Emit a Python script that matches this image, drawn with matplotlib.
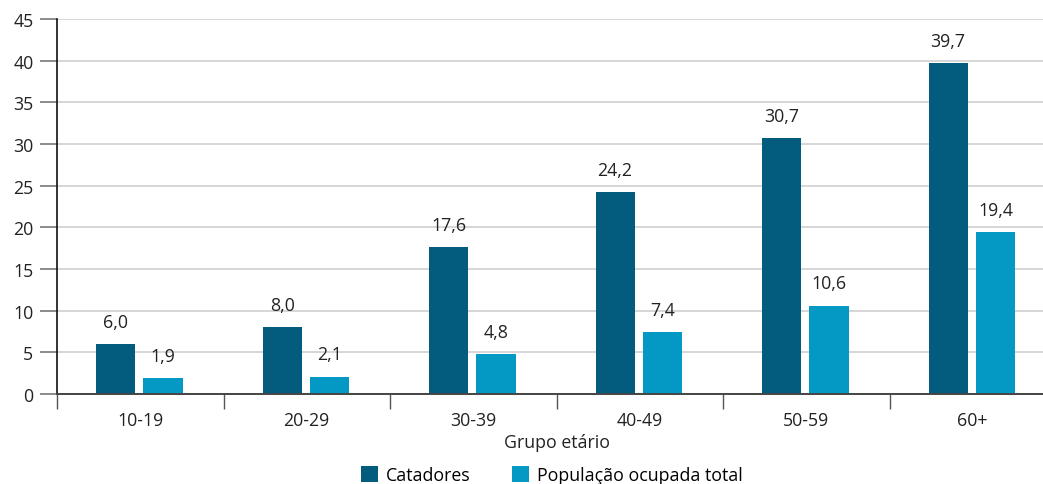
import numpy as np
import matplotlib.pyplot as plt

plt.rcParams['font.family'] = ['Open Sans', 'DejaVu Sans']

age_groups = ['10-19', '20-29', '30-39', '40-49', '50-59', '60+']
catadores = [6.0, 8.0, 17.6, 24.2, 30.7, 39.7]
pop_ocupada = [1.9, 2.1, 4.8, 7.4, 10.6, 19.4]

dark_blue = '#035b7e'
light_blue = '#0499c5'
fs = 12.8

fig = plt.figure(figsize=(10.43, 4.85), dpi=100)
# right edge of the axes runs past the figure, as in the printed layout
ax = fig.add_axes([57 / 1043, 90 / 485, 999 / 1043, 375 / 485])

x = np.arange(len(age_groups))
bw = 0.235
b1 = ax.bar(x - 0.148, catadores, bw, color=dark_blue, label='Catadores', zorder=3)
b2 = ax.bar(x + 0.137, pop_ocupada, bw, color=light_blue, label='População ocupada total', zorder=3)

for bars, vals in ((b1, catadores), (b2, pop_ocupada)):
    for bar, v in zip(bars, vals):
        ax.annotate(f'{v:.1f}'.replace('.', ','),
                    (bar.get_x() + bar.get_width() / 2, v),
                    xytext=(0, 16), textcoords='offset points',
                    ha='center', va='center', fontsize=fs, color='#222222')

ax.set_ylim(0, 45)
ax.set_xlim(-0.5, len(age_groups) - 0.5)
ax.set_yticks(range(0, 46, 5))
ax.grid(axis='y', color='#d6d6d6', linewidth=1.4, zorder=0)

ax.set_xticks(x)
ax.set_xticklabels(age_groups)
ax.set_xticks(np.arange(-0.5, len(age_groups)), minor=True)
ax.tick_params(axis='x', which='major', length=0, pad=12, labelsize=fs, labelcolor='#222222')
ax.tick_params(axis='x', which='minor', length=11, width=1, color='#555555', direction='out')
ax.tick_params(axis='y', length=12, width=1.2, color='#777777', pad=5, labelsize=fs, labelcolor='#222222')

for side in ('top', 'right'):
    ax.spines[side].set_visible(False)
ax.spines['left'].set_color('#111111')
ax.spines['left'].set_linewidth(1.2)
ax.spines['bottom'].set_color('#444444')
ax.spines['bottom'].set_linewidth(1.4)
ax.spines['bottom'].set_zorder(4)

ax.set_xlabel('Grupo etário', fontsize=fs, color='#222222', labelpad=3)

fig.legend(handles=[b1, b2], loc='center', bbox_to_anchor=(552 / 1043, 9 / 485),
           ncol=2, frameon=False, fontsize=fs, handlelength=0.95, handleheight=0.95,
           handletextpad=0.45, columnspacing=2.3, borderpad=0)

fig.savefig('out.png', dpi=100)
